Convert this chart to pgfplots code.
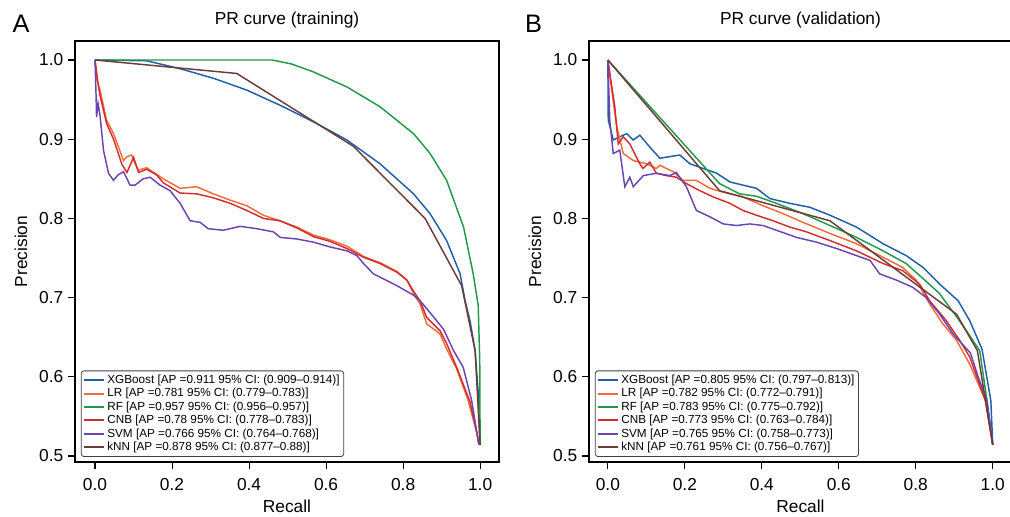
\documentclass[border=0pt]{standalone}
\usepackage{fontspec}
\setmainfont{Liberation Sans}
\usepackage{pgfplots}
\pgfplotsset{compat=1.18}

\definecolor{cXGB}{HTML}{1F5FA8}
\definecolor{cLR}{HTML}{F26B38}
\definecolor{cRF}{HTML}{1F9A4A}
\definecolor{cCNB}{HTML}{D12F2F}
\definecolor{cSVM}{HTML}{6C44B0}
\definecolor{cKNN}{HTML}{6E3C38}

\pgfplotsset{
  prpanel/.style={
    scale only axis,
    clip mode=individual,
    height=315.75pt,
    ymin=0.4924, ymax=1.024,
    xtick={0,0.2,0.4,0.6,0.8,1.0},
    ytick={0.5,0.6,0.7,0.8,0.9,1.0},
    /pgf/number format/.cd, fixed, fixed zerofill, precision=1, assume math mode=true,
    /pgfplots/.cd,
    tick pos=left,
    tick align=outside,
    major tick length=5.25pt,
    every tick/.style={black, line width=0.8pt},
    axis line style={line width=1.1pt},
    tick label style={font=\fontsize{13}{15}\selectfont},
    xticklabel style={yshift=-3.5pt},
    label style={font=\fontsize{13}{15}\selectfont},
    title style={at={(0.5,1)}, anchor=base, yshift=6pt, font=\fontsize{13}{15}\selectfont},
    xlabel={Recall},
    ylabel={Precision},
    xlabel style={at={(axis description cs:0.5,-0.119)}, anchor=base},
    ylabel style={at={(axis description cs:-0.113,0.5)}, anchor=base},
    legend style={at={(axis description cs:0.014,0.012)}, anchor=south west,
      font=\fontsize{8.8}{9.6}\selectfont, draw=black!75, line width=0.6pt,
      rounded corners=2pt, inner sep=1pt, row sep=-1.8pt,
      cells={anchor=west}},
    legend image code/.code={\draw[##1, line width=1.5pt] (0pt,0pt) -- (15pt,0pt);},
    every axis plot/.append style={line width=1.1pt, mark=none},
  }
}

\begin{document}
\begin{tikzpicture}
\useasboundingbox (0,0) rectangle (757.5pt,387.75pt);

% ---- A: training ----
\begin{axis}[prpanel,
  at={(56.25pt,41.25pt)}, anchor=south west,
  width=318pt,
  xmin=-0.052, xmax=1.049,
  title={PR curve (training)}]
\addplot[cXGB] coordinates {(0,1) (0.134,0.999) (0.221,0.989) (0.307,0.977) (0.394,0.962) (0.48,0.943) (0.567,0.922) (0.654,0.899) (0.74,0.869) (0.827,0.831) (0.87,0.806) (0.913,0.772) (0.948,0.73) (0.961,0.696) (0.974,0.67) (0.987,0.633) (0.995,0.58) (1.0,0.514)};
\addlegendentry{XGBoost [AP =0.911 95\% CI: (0.909–0.914)]}
\addplot[cLR] coordinates {(0,1) (0.005,0.975) (0.013,0.962) (0.03,0.924) (0.048,0.907) (0.074,0.873) (0.083,0.878) (0.095,0.88) (0.105,0.868) (0.113,0.861) (0.134,0.864) (0.177,0.85) (0.221,0.838) (0.264,0.84) (0.307,0.831) (0.351,0.823) (0.394,0.816) (0.437,0.804) (0.48,0.797) (0.524,0.789) (0.567,0.779) (0.61,0.773) (0.654,0.765) (0.697,0.752) (0.74,0.744) (0.784,0.733) (0.81,0.722) (0.827,0.705) (0.844,0.692) (0.861,0.667) (0.896,0.654) (0.913,0.635) (0.939,0.61) (0.969,0.57) (0.992,0.528) (0.997,0.514)};
\addlegendentry{LR [AP =0.781 95\% CI: (0.779–0.783)]}
\addplot[cRF] coordinates {(0,1) (0.3,1.0) (0.46,1.0) (0.51,0.995) (0.567,0.985) (0.654,0.966) (0.74,0.941) (0.827,0.907) (0.87,0.882) (0.913,0.848) (0.957,0.789) (0.982,0.73) (0.995,0.69) (0.999,0.62) (1.0,0.514)};
\addlegendentry{RF [AP =0.957 95\% CI: (0.956–0.957)]}
\addplot[cCNB] coordinates {(0,1) (0.008,0.97) (0.013,0.955) (0.03,0.92) (0.048,0.9) (0.07,0.868) (0.083,0.858) (0.1,0.877) (0.113,0.858) (0.134,0.862) (0.16,0.855) (0.177,0.845) (0.221,0.832) (0.264,0.831) (0.307,0.826) (0.351,0.819) (0.394,0.81) (0.437,0.8) (0.48,0.797) (0.524,0.788) (0.567,0.777) (0.61,0.771) (0.654,0.762) (0.697,0.751) (0.74,0.743) (0.784,0.732) (0.81,0.722) (0.827,0.708) (0.844,0.696) (0.861,0.675) (0.896,0.658) (0.913,0.642) (0.939,0.612) (0.974,0.568) (0.992,0.528) (0.997,0.514)};
\addlegendentry{CNB [AP =0.78 95\% CI: (0.778–0.783)]}
\addplot[cSVM] coordinates {(0,1) (0.003,0.95) (0.004,0.928) (0.008,0.945) (0.013,0.93) (0.022,0.886) (0.035,0.857) (0.048,0.848) (0.06,0.855) (0.074,0.859) (0.091,0.842) (0.104,0.842) (0.125,0.85) (0.143,0.852) (0.169,0.842) (0.195,0.835) (0.221,0.819) (0.247,0.797) (0.273,0.795) (0.294,0.787) (0.333,0.785) (0.377,0.79) (0.42,0.787) (0.463,0.783) (0.481,0.776) (0.524,0.774) (0.567,0.77) (0.61,0.764) (0.654,0.759) (0.68,0.753) (0.697,0.743) (0.723,0.73) (0.784,0.715) (0.827,0.703) (0.844,0.696) (0.87,0.681) (0.905,0.66) (0.931,0.633) (0.956,0.612) (0.978,0.57) (0.992,0.528) (0.997,0.514)};
\addlegendentry{SVM [AP =0.766 95\% CI: (0.764–0.768)]}
\addplot[cKNN] coordinates {(0,1) (0.368,0.983) (0.671,0.891) (0.857,0.8) (0.952,0.715) (0.987,0.633) (1.0,0.514)};
\addlegendentry{kNN [AP =0.878 95\% CI: (0.877–0.88)]}
\node[anchor=base west, font=\fontsize{19}{22}\selectfont] at (axis description cs:-0.158,1.019) {A};
\end{axis}

% ---- B: validation ----
\begin{axis}[prpanel,
  at={(441.75pt,41.25pt)}, anchor=south west,
  width=317.25pt,
  xmin=-0.049, xmax=1.05,
  title={PR curve (validation)}]
\addplot[cXGB] coordinates {(0,1) (0.001,0.924) (0.014,0.899) (0.031,0.903) (0.049,0.907) (0.066,0.899) (0.083,0.905) (0.109,0.89) (0.135,0.876) (0.161,0.878) (0.187,0.88) (0.213,0.869) (0.248,0.863) (0.283,0.857) (0.317,0.846) (0.351,0.842) (0.386,0.838) (0.421,0.825) (0.473,0.819) (0.525,0.814) (0.577,0.804) (0.646,0.789) (0.715,0.768) (0.775,0.753) (0.819,0.738) (0.862,0.717) (0.91,0.696) (0.94,0.671) (0.972,0.635) (0.995,0.57) (1.0,0.514)};
\addlegendentry{XGBoost [AP =0.805 95\% CI: (0.797–0.813)]}
\addplot[cLR] coordinates {(0,1) (0.01,0.962) (0.023,0.916) (0.04,0.882) (0.066,0.873) (0.1,0.869) (0.126,0.863) (0.135,0.867) (0.17,0.859) (0.195,0.848) (0.23,0.848) (0.265,0.838) (0.3,0.833) (0.351,0.827) (0.403,0.816) (0.455,0.806) (0.507,0.795) (0.577,0.781) (0.646,0.768) (0.715,0.751) (0.766,0.738) (0.801,0.722) (0.836,0.692) (0.87,0.667) (0.906,0.646) (0.94,0.616) (0.981,0.57) (1.0,0.514)};
\addlegendentry{LR [AP =0.782 95\% CI: (0.772–0.791)]}
\addplot[cRF] coordinates {(0,1) (0.29,0.844) (0.342,0.831) (0.386,0.828) (0.438,0.819) (0.507,0.806) (0.577,0.791) (0.646,0.776) (0.715,0.759) (0.775,0.743) (0.819,0.724) (0.862,0.705) (0.875,0.696) (0.906,0.676) (0.94,0.652) (0.966,0.633) (0.985,0.57) (1.0,0.514)};
\addlegendentry{RF [AP =0.783 95\% CI: (0.775–0.792)]}
\addplot[cCNB] coordinates {(0,1) (0.018,0.941) (0.027,0.894) (0.04,0.903) (0.057,0.894) (0.083,0.869) (0.091,0.863) (0.109,0.871) (0.126,0.857) (0.152,0.854) (0.178,0.852) (0.204,0.844) (0.239,0.835) (0.274,0.827) (0.317,0.819) (0.351,0.81) (0.386,0.804) (0.429,0.797) (0.473,0.789) (0.516,0.783) (0.577,0.772) (0.646,0.759) (0.715,0.743) (0.766,0.734) (0.81,0.717) (0.836,0.696) (0.879,0.671) (0.914,0.646) (0.94,0.625) (0.981,0.57) (1.0,0.514)};
\addlegendentry{CNB [AP =0.773 95\% CI: (0.763–0.784)]}
\addplot[cSVM] coordinates {(0,1) (0.005,0.924) (0.014,0.882) (0.031,0.886) (0.044,0.84) (0.057,0.852) (0.066,0.84) (0.092,0.854) (0.126,0.857) (0.161,0.854) (0.178,0.858) (0.204,0.84) (0.23,0.81) (0.265,0.802) (0.3,0.793) (0.334,0.791) (0.369,0.793) (0.403,0.791) (0.438,0.785) (0.49,0.776) (0.542,0.77) (0.594,0.762) (0.646,0.753) (0.681,0.747) (0.706,0.73) (0.75,0.722) (0.792,0.713) (0.827,0.7) (0.862,0.679) (0.897,0.654) (0.942,0.63) (0.962,0.6) (0.985,0.57) (1.0,0.514)};
\addlegendentry{SVM [AP =0.765 95\% CI: (0.758–0.773)]}
\addplot[cKNN] coordinates {(0,1) (0.29,0.835) (0.577,0.797) (0.906,0.679) (0.96,0.633) (1.0,0.514)};
\addlegendentry{kNN [AP =0.761 95\% CI: (0.756–0.767)]}
\node[anchor=base west, font=\fontsize{19}{22}\selectfont] at (axis description cs:-0.162,1.019) {B};
\end{axis}
\end{tikzpicture}
\end{document}
